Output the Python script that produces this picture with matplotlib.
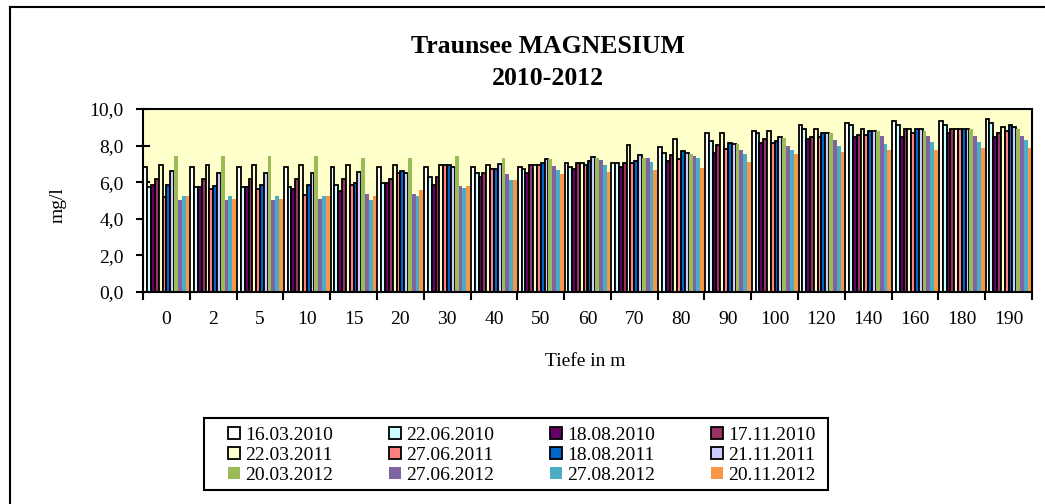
import matplotlib
matplotlib.use("Agg")
import matplotlib.pyplot as plt
import numpy as np
from matplotlib.lines import Line2D
from matplotlib.patches import Rectangle
from matplotlib.ticker import FixedLocator

depths = ["0", "2", "5", "10", "15", "20", "30", "40", "50", "60", "70", "80",
          "90", "100", "120", "140", "160", "180", "190"]

series_names = ["16.03.2010", "22.06.2010", "18.08.2010", "17.11.2010",
                "22.03.2011", "27.06.2011", "18.08.2011", "21.11.2011",
                "20.03.2012", "27.06.2012", "27.08.2012", "20.11.2012"]

s_16_03_2010 = [6.83, 6.83, 6.83, 6.83, 6.83, 6.83, 6.83, 6.83, 6.83, 7.05, 7.05, 7.92, 8.68, 8.79, 9.12, 9.23, 9.34, 9.34, 9.45]
s_22_06_2010 = [5.74, 5.74, 5.74, 5.74, 5.87, 5.98, 6.30, 6.52, 6.74, 6.83, 7.05, 7.59, 8.25, 8.68, 8.90, 9.12, 9.12, 9.12, 9.23]
s_18_08_2010 = [5.83, 5.74, 5.74, 5.63, 5.54, 5.98, 5.87, 6.30, 6.52, 6.74, 6.83, 7.16, 7.61, 8.14, 8.35, 8.46, 8.46, 8.68, 8.46]
s_17_11_2010 = [6.20, 6.20, 6.20, 6.16, 6.20, 6.20, 6.30, 6.52, 6.96, 7.05, 7.05, 7.50, 8.05, 8.35, 8.46, 8.57, 8.90, 8.90, 8.68]
s_22_03_2011 = [6.96, 6.96, 6.96, 6.96, 6.96, 6.96, 6.96, 6.96, 6.96, 7.05, 8.03, 8.37, 8.68, 8.79, 8.90, 8.90, 8.90, 8.90, 9.01]
s_27_06_2011 = [5.20, 5.61, 5.61, 5.30, 5.83, 6.52, 6.96, 6.74, 6.96, 6.96, 7.05, 7.25, 7.83, 8.14, 8.46, 8.57, 8.68, 8.90, 8.79]
s_18_08_2011 = [5.83, 5.80, 5.85, 5.85, 5.98, 6.59, 6.96, 6.74, 7.07, 7.16, 7.16, 7.70, 8.14, 8.25, 8.68, 8.79, 8.90, 8.90, 9.12]
s_21_11_2011 = [6.61, 6.52, 6.52, 6.52, 6.54, 6.52, 6.83, 7.00, 7.28, 7.37, 7.50, 7.61, 8.07, 8.46, 8.68, 8.79, 8.90, 8.90, 9.01]
s_20_03_2012 = [7.41, 7.41, 7.41, 7.41, 7.30, 7.30, 7.41, 7.30, 7.28, 7.30, 7.30, 7.52, 8.07, 8.39, 8.68, 8.79, 8.79, 8.90, 8.90]
s_27_06_2012 = [5.01, 5.01, 5.01, 5.10, 5.34, 5.34, 5.78, 6.43, 6.87, 7.19, 7.30, 7.41, 7.74, 7.96, 8.28, 8.50, 8.50, 8.50, 8.50]
s_27_08_2012 = [5.23, 5.23, 5.23, 5.23, 5.01, 5.23, 5.67, 6.10, 6.65, 6.96, 7.08, 7.30, 7.52, 7.74, 7.96, 8.07, 8.17, 8.17, 8.28]
s_20_11_2012 = [5.23, 5.10, 5.10, 5.23, 5.23, 5.56, 5.78, 6.10, 6.43, 6.54, 6.65, 6.76, 7.08, 7.52, 7.63, 7.74, 7.74, 7.85, 7.85]

series_values = [s_16_03_2010, s_22_06_2010, s_18_08_2010, s_17_11_2010,
                 s_22_03_2011, s_27_06_2011, s_18_08_2011, s_21_11_2011,
                 s_20_03_2012, s_27_06_2012, s_27_08_2012, s_20_11_2012]

colors = ["#FFFFFF", "#CCFFFF", "#660066", "#993366",
          "#FFFFCC", "#FF8080", "#0066CC", "#CCCCFF",
          "#9BBB59", "#8064A2", "#4BACC6", "#F79646"]
outlined = [True] * 8 + [False] * 4

yticks = [0, 2, 4, 6, 8, 10]
ytick_labels = ["0,0", "2,0", "4,0", "6,0", "8,0", "10,0"]

plt.rcParams["font.family"] = ["Liberation Serif", "DejaVu Serif"]

W, H = 1045, 504
fig = plt.figure(figsize=(W / 100, H / 100), dpi=100)
ax = fig.add_axes([143 / W, 1 - 292 / H, (1032 - 143) / W, (292 - 109) / H])
ax.set_facecolor("#FFFFCC")

n = len(series_values)
total = 0.98
w = total / n
x = np.arange(len(depths))
for j, (vals, c, ol) in enumerate(zip(series_values, colors, outlined)):
    pos = x - total / 2 + (j + 0.5) * w
    if ol:
        ax.bar(pos, vals, width=w, color=c, edgecolor="black", linewidth=1.3, zorder=2)
    else:
        ax.bar(pos, vals, width=w, color=c, edgecolor="none", linewidth=0, zorder=2)

ax.set_xlim(-0.5, len(depths) - 0.5)
ax.set_ylim(0, 10)
ax.set_yticks(yticks)
ax.set_yticklabels(ytick_labels, fontsize=14)
ax.set_xticks(x)
ax.set_xticklabels(depths, fontsize=14)
ax.xaxis.set_minor_locator(FixedLocator(np.arange(-0.5, len(depths), 1.0)))
ax.tick_params(axis="x", which="major", length=0, pad=14)
ax.tick_params(axis="x", which="minor", length=6, width=1.5, direction="out")
ax.tick_params(axis="y", which="major", length=10, width=1.5, direction="inout", pad=9)
for sp in ax.spines.values():
    sp.set_linewidth(1.5)

# axis titles
fig.text(58 / W, 1 - 205 / H, "mg/l", rotation=90, ha="center", va="center", fontsize=14)
fig.text(585 / W, 1 - 362 / H, "Tiefe in m", ha="center", va="center", fontsize=14)

# chart title (two lines)
fig.text(548 / W, 1 - 53 / H, "Traunsee MAGNESIUM", ha="center", va="baseline",
         fontsize=18.5, fontweight="bold")
fig.text(548 / W, 1 - 85 / H, "2010-2012", ha="center", va="baseline",
         fontsize=18.5, fontweight="bold")

handles = []
for name, c, ol in zip(series_names, colors, outlined):
    handles.append(Line2D([0], [0], marker="s", linestyle="none", markersize=8,
                          markerfacecolor=c,
                          markeredgecolor="black" if ol else c,
                          markeredgewidth=1.3 if ol else 0, label=name))
order = []
for col in range(4):
    for row in range(3):
        order.append(row * 4 + col)
leg = fig.legend([handles[i] for i in order], [series_names[i] for i in order],
                 ncol=4, loc="center", bbox_to_anchor=(522 / W, 1 - 455 / H),
                 frameon=False, fontsize=14,
                 handlelength=0.6, handletextpad=0.25, columnspacing=2.9,
                 labelspacing=0.12, borderpad=0.2)

# legend frame
fig.add_artist(Rectangle((204 / W, 1 - 490 / H), (828 - 204) / W, (490 - 418) / H,
                         transform=fig.transFigure, fill=False, edgecolor="black",
                         linewidth=1.5))

# outer chart frame
fig.add_artist(Line2D([10 / W, 10 / W], [0, 1 - 7 / H], color="black", linewidth=1.5, transform=fig.transFigure))
fig.add_artist(Line2D([10 / W, 1], [1 - 7 / H, 1 - 7 / H], color="black", linewidth=1.5, transform=fig.transFigure))

fig.savefig("out.png", dpi=100)
